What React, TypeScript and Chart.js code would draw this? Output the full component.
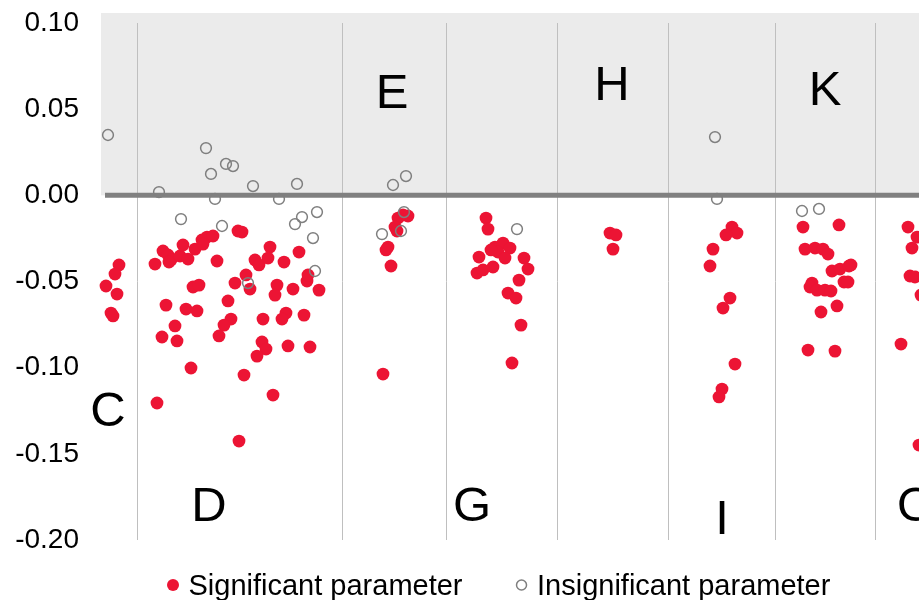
import React, { useEffect, useRef } from "react";
import { Chart, registerables } from "chart.js";

Chart.register(...registerables);

const FONT = "'Liberation Sans', Arial, sans-serif";

// Y axis range and ticks
const yMin = -0.2;
const yMax = 0.1;
const yStep = 0.05;

// X positions (horizontal jitter units) of the group separators
const groupBoundaries = [137, 342, 446, 557, 668, 775, 875];
const xMin = 101;
const xMax = 919;

// Group letters and where they sit
const groupNames = ["C", "D", "E", "G", "H", "I", "K", "O"];
const groupLabelX = [108, 209, 392, 472, 612, 722, 825, 916];
const groupLabelY = [-0.1234, -0.1786, 0.0611, -0.1786, 0.0657, -0.1861, 0.0628, -0.1788];

// Series: [jitter position, parameter value]
const significantC: [number, number][] = [
  [119, -0.0404], [115, -0.0457], [106, -0.0526], [117, -0.0573], [111, -0.0683], [113, -0.07],
];
const insignificantC: [number, number][] = [[108, 0.035]];

const significantD: [number, number][] = [
  [155, -0.0399], [163, -0.0323], [168, -0.0346], [171, -0.0375], [169, -0.0387], [180, -0.0352],
  [188, -0.037], [183, -0.0288], [195, -0.0312], [202, -0.0259], [207, -0.0242], [213, -0.0236],
  [203, -0.0283], [217, -0.0381], [238, -0.0207], [242, -0.0213], [270, -0.03], [255, -0.0375],
  [259, -0.0404], [268, -0.0364], [284, -0.0387], [299, -0.0329], [246, -0.0462], [235, -0.0509],
  [250, -0.0544], [277, -0.0521], [275, -0.0579], [293, -0.0544], [307, -0.0497], [308, -0.0462],
  [319, -0.055], [193, -0.0532], [199, -0.0521], [228, -0.0613], [166, -0.0637], [186, -0.066],
  [197, -0.0671], [231, -0.0718], [224, -0.0753], [263, -0.0718], [286, -0.0683], [282, -0.0718],
  [304, -0.0695], [175, -0.0758], [162, -0.0822], [177, -0.0845], [219, -0.0816], [262, -0.0851],
  [266, -0.0892], [288, -0.0874], [310, -0.088], [257, -0.0933], [191, -0.1002], [244, -0.1043],
  [273, -0.1159], [157, -0.1205], [239, -0.1426],
];
const insignificantD: [number, number][] = [
  [206, 0.0274], [226, 0.0182], [233, 0.017], [211, 0.0124], [159, 0.0019], [253, 0.0054],
  [297, 0.0066], [215, -0.0021], [279, -0.0021], [181, -0.0138], [222, -0.0178], [317, -0.0097],
  [302, -0.0126], [295, -0.0167], [313, -0.0248], [315, -0.0439], [248, -0.0509],
];

const significantE: [number, number][] = [
  [408, -0.012], [403, -0.0114], [398, -0.0132], [395, -0.0184], [397, -0.0207], [388, -0.03],
  [386, -0.0317], [391, -0.041], [383, -0.1037],
];
const insignificantE: [number, number][] = [
  [393, 0.006], [406, 0.0112], [404, -0.0097], [382, -0.0225], [401, -0.0207],
];

const significantG: [number, number][] = [
  [486, -0.0132], [488, -0.0196], [495, -0.03], [503, -0.0277], [510, -0.0306], [498, -0.0329],
  [505, -0.0364], [491, -0.0317], [479, -0.0358], [477, -0.0451], [483, -0.0433], [493, -0.0416],
  [524, -0.0364], [528, -0.0428], [519, -0.0492], [508, -0.0567], [516, -0.0596], [521, -0.0753],
  [512, -0.0973],
];
const insignificantG: [number, number][] = [[517, -0.0196]];

const significantH: [number, number][] = [[610, -0.0219], [616, -0.023], [613, -0.0312]];

const significantI: [number, number][] = [
  [732, -0.0184], [737, -0.0219], [726, -0.023], [713, -0.0312], [710, -0.041], [730, -0.0596],
  [723, -0.0654], [735, -0.0979], [722, -0.1124], [719, -0.117],
];
const insignificantI: [number, number][] = [[715, 0.0338], [717, -0.0021]];

const significantK: [number, number][] = [
  [803, -0.0184], [839, -0.0172], [805, -0.0312], [815, -0.0306], [823, -0.0312], [828, -0.0341],
  [832, -0.0439], [840, -0.0428], [849, -0.041], [851, -0.0404], [812, -0.0509], [810, -0.0532],
  [817, -0.055], [825, -0.055], [831, -0.0555], [844, -0.0503], [848, -0.0503], [821, -0.0677],
  [837, -0.0642], [808, -0.0898], [835, -0.0904],
];
const insignificantK: [number, number][] = [[802, -0.0091], [819, -0.0079]];

const significantO: [number, number][] = [
  [908, -0.0184], [917, -0.0242], [912, -0.0306], [910, -0.0468], [915, -0.0474], [921, -0.0579],
  [901, -0.0863], [919, -0.1449],
];

const seriesNames = ["Significant parameter", "Insignificant parameter"];
const significantColor = "#EC1434";
const insignificantColor = "#7F7F7F";

const toPoints = (groups: [number, number][][]) =>
  groups.flat().map(([x, y]) => ({ x, y }));

const zeroPadding = (scale: any) => {
  scale.paddingTop = 0;
  scale.paddingBottom = 0;
  scale.paddingLeft = 0;
  scale.paddingRight = 0;
};

export default function App() {
  const canvasRef = useRef<HTMLCanvasElement | null>(null);

  useEffect(() => {
    const canvas = canvasRef.current;
    if (!canvas) return;

    const decorPlugin = {
      id: "decor",
      beforeDraw(chart: any) {
        const { ctx, chartArea } = chart;
        const y0 = chart.scales.y.getPixelForValue(0);
        ctx.save();
        ctx.fillStyle = "#EBEBEB";
        ctx.fillRect(chartArea.left, chartArea.top - 10, chartArea.right - chartArea.left, y0 - (chartArea.top - 10));
        ctx.restore();
      },
      beforeDatasetsDraw(chart: any) {
        const { ctx, chartArea } = chart;
        const y0 = chart.scales.y.getPixelForValue(0);
        ctx.save();
        ctx.strokeStyle = "#808080";
        ctx.lineWidth = 5;
        ctx.beginPath();
        ctx.moveTo(chartArea.left + 4, y0);
        ctx.lineTo(chartArea.right, y0);
        ctx.stroke();
        ctx.restore();
      },
      afterDraw(chart: any) {
        const { ctx, chartArea } = chart;
        const xs = chart.scales.x;
        const ys = chart.scales.y;
        ctx.save();
        // group letters
        const size = 49;
        ctx.font = `${size}px ${FONT}`;
        ctx.fillStyle = "#000";
        ctx.textAlign = "center";
        ctx.textBaseline = "alphabetic";
        groupNames.forEach((name, i) => {
          const px = xs.getPixelForValue(groupLabelX[i]);
          const py = ys.getPixelForValue(groupLabelY[i]);
          ctx.fillText(name, px, py + size * 0.358);
        });
        // legend
        const fs = 29;
        ctx.font = `${fs}px ${FONT}`;
        ctx.textAlign = "left";
        const cy = chartArea.bottom + 45;
        let cx = chartArea.left + 72;
        seriesNames.forEach((name, i) => {
          ctx.beginPath();
          if (i === 0) {
            ctx.fillStyle = significantColor;
            ctx.arc(cx, cy, 6, 0, Math.PI * 2);
            ctx.fill();
          } else {
            ctx.strokeStyle = insignificantColor;
            ctx.lineWidth = 1.5;
            ctx.arc(cx, cy, 5, 0, Math.PI * 2);
            ctx.stroke();
          }
          const tx = cx + 15.5;
          ctx.fillStyle = "#000";
          ctx.fillText(name, tx, cy + fs * 0.358);
          cx = tx + ctx.measureText(name).width + 59;
        });
        ctx.restore();
      },
    };

    const chart = new Chart(canvas, {
      type: "scatter",
      data: {
        datasets: [
          {
            label: seriesNames[0],
            data: toPoints([significantC, significantD, significantE, significantG, significantH, significantI, significantK, significantO]),
            backgroundColor: significantColor,
            borderWidth: 0,
            pointRadius: 6.4,
            order: 1,
            clip: false as any,
          },
          {
            label: seriesNames[1],
            data: toPoints([insignificantC, insignificantD, insignificantE, insignificantG, insignificantI, insignificantK]),
            backgroundColor: "rgba(0,0,0,0)",
            borderColor: insignificantColor,
            borderWidth: 1.5,
            pointRadius: 5.4,
            order: 0,
            clip: false as any,
          },
        ],
      },
      options: {
        animation: false,
        responsive: false,
        events: [],
        layout: { autoPadding: false, padding: { top: 23, bottom: 60, left: 0, right: 0 } },
        plugins: {
          legend: { display: false },
          tooltip: { enabled: false },
        },
        scales: {
          x: {
            type: "linear",
            min: xMin,
            max: xMax,
            display: true,
            border: { display: false },
            ticks: { display: false },
            grid: { color: "#BFBFBF", lineWidth: 1, drawTicks: false },
            afterBuildTicks: (scale: any) => {
              scale.ticks = groupBoundaries.map((v) => ({ value: v }));
            },
            afterFit: (scale: any) => {
              scale.height = 0;
              zeroPadding(scale);
            },
          },
          y: {
            type: "linear",
            min: yMin,
            max: yMax,
            border: { display: false },
            grid: { display: false, drawTicks: false },
            ticks: {
              stepSize: yStep,
              padding: 22,
              color: "#000",
              font: { family: FONT, size: 28 },
              callback: (v: any) => (Math.abs(Number(v)) < 1e-9 ? 0 : Number(v)).toFixed(2),
            },
            afterFit: (scale: any) => {
              scale.width = 101;
              zeroPadding(scale);
            },
          },
        },
      },
      plugins: [decorPlugin],
    });

    return () => chart.destroy();
  }, []);

  return (
    <div style={{ position: "fixed", left: 0, top: 0, width: 919, height: 600, background: "#fff" }}>
      <canvas ref={canvasRef} width={919} height={600} style={{ display: "block", width: 919, height: 600 }} />
    </div>
  );
}
